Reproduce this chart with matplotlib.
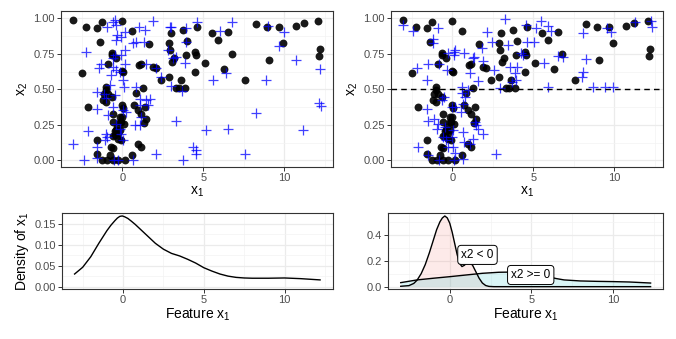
import numpy as np
import matplotlib.pyplot as plt
from matplotlib.ticker import FixedLocator, FormatStrFormatter

plt.rcParams['font.family'] = ['Liberation Sans', 'DejaVu Sans']
plt.rcParams['mathtext.fontset'] = 'custom'
plt.rcParams['mathtext.rm'] = 'Liberation Sans'
plt.rcParams['mathtext.default'] = 'regular'

# observed data (black dots), same in both top panels
obs_x1 = [-3.04, -2.26, -1.56, -1.23, -1.40, 0.00, 0.62, 1.62, 3.02, 3.74, 3.98, 4.60, 4.46, 4.56,
          3.94, 5.54, 5.93, 6.51, 6.78, 5.11, 6.30, 7.58, 8.25, 8.91, 9.08, 9.69, 9.90, 10.72,
          11.19, 12.09, 12.20, 12.15, 4.46, 2.87, 2.92, 3.08, 3.22, 2.87, 2.40, 3.63, 3.29, 3.49,
          3.84, 1.89, 2.09, 1.03, 1.13, -0.02, 0.04, -0.66, -0.62, -0.37, -0.88, -2.46, 1.27, 0.86,
          -0.99, -1.03, -1.15, -0.88, -0.62, -1.19, -0.99, -2.11, 0.00, 0.04, 0.72, 0.97, 1.17, 1.38,
          1.48, 1.31, -0.57, -0.57, 0.00, -0.12, 0.08, -0.33, -0.47, -0.27, -0.16, -0.57, -0.27,
          -0.06, -1.54, 0.97, 1.13, -0.57, -1.56, -0.78, 0.62, -1.25, -0.94, -0.57, -0.27, 0.14,
          -0.47, -0.16, -0.06, -0.37, -0.68]
obs_x2 = [0.988, 0.940, 0.930, 0.976, 0.835, 0.984, 0.910, 0.816, 0.900, 0.918, 0.840, 0.936, 0.760,
          0.740, 0.740, 0.894, 0.850, 0.906, 0.748, 0.687, 0.642, 0.565, 0.960, 0.936, 0.706, 0.940,
          0.830, 0.948, 0.970, 0.984, 0.784, 0.734, 0.624, 0.828, 0.780, 0.694, 0.718, 0.584, 0.565,
          0.565, 0.513, 0.513, 0.513, 0.659, 0.647, 0.670, 0.680, 0.630, 0.624, 0.753, 0.741, 0.718,
          0.678, 0.616, 0.513, 0.475, 0.518, 0.494, 0.470, 0.464, 0.447, 0.428, 0.412, 0.376, 0.388,
          0.370, 0.388, 0.353, 0.329, 0.376, 0.289, 0.266, 0.329, 0.271, 0.306, 0.271, 0.254, 0.235,
          0.207, 0.193, 0.212, 0.169, 0.153, 0.146, 0.141, 0.118, 0.094, 0.089, 0.042, 0.035, 0.035,
          0.005, 0.000, 0.000, 0.005, 0.000, 0.176, 0.306, 0.270, 0.212, 0.094]

# simulated data, left panel (blue crosses)
simA_x1 = [-3.04, -2.38, -2.26, -2.11, -1.54, -1.54, -1.56, -1.44, -1.29, -1.56, -1.15, -0.99, -1.03,
           -0.94, -1.05, -0.88, -0.78, -0.72, -0.57, -0.41, -0.57, -0.47, -0.41, -0.33, -0.37, -0.57,
           -0.47, -0.92, 0.14, -0.06, 0.14, -0.06, 0.14, -0.16, 0.04, 0.10, -0.47, -0.57, 0.04, 0.20,
           -0.37, -0.16, -0.06, 0.04, -0.53, -0.27, 0.66, 0.76, 1.07, 1.07, 1.11, 1.48, 1.68, 1.58,
           1.17, 0.86, 1.03, 1.38, 0.82, 0.66, 1.31, 1.48, 2.05, 1.89, 2.92, 3.02, 2.81, 3.33, 3.12,
           2.40, 2.98, 3.68, 3.88, 3.94, 3.94, 3.33, 2.05, 3.74, 4.35, 4.52, 4.56, 4.62, 5.17, 5.59,
           6.00, 6.37, 6.55, 6.76, 7.58, 8.25, 8.87, 9.00, 9.69, 9.96, 10.72, 11.17, 12.20, 12.15, 12.25]
simA_x2 = [0.118, 0.000, 0.760, 0.205, 0.019, 0.094, 0.365, 0.647, 0.682, 0.482, 0.464, 0.442, 0.188,
           0.165, 0.141, 0.318, 0.529, 0.600, 0.659, 0.635, 0.718, 0.741, 0.847, 0.882, 0.953, 0.976,
           0.988, 0.941, 0.906, 0.871, 0.776, 0.741, 0.682, 0.624, 0.565, 0.518, 0.459, 0.376, 0.353,
           0.341, 0.259, 0.224, 0.188, 0.141, 0.005, 0.005, 0.005, 0.247, 0.247, 0.388, 0.435, 0.424,
           0.435, 0.388, 0.306, 0.518, 0.941, 0.918, 0.835, 0.828, 0.835, 0.678, 0.647, 0.984, 0.941,
           0.936, 0.776, 0.729, 0.718, 0.584, 0.522, 0.487, 0.689, 0.929, 0.835, 0.278, 0.047, 0.005,
           0.094, 0.075, 0.042, 0.976, 0.212, 0.565, 0.913, 0.616, 0.219, 0.972, 0.047, 0.336, 0.565,
           0.948, 0.805, 0.906, 0.706, 0.212, 0.640, 0.405, 0.386]

# simulated data, right panel (blue crosses)
simB_x1 = [-3.02, -2.41, -2.16, -1.52, -1.54, -1.58, -1.48, -2.10, -1.52, -1.17, -1.17, -0.86, -0.82,
           -0.35, -0.25, 0.12, 0.16, 0.12, -0.49, -0.66, -1.13, -0.91, -0.97, -0.45, -0.56, -0.41,
           -0.25, 0.06, 0.16, 0.12, -0.80, 0.68, 0.06, -0.04, -0.04, 0.16, 0.53, 0.68, 0.78, 0.62,
           0.58, 0.99, 1.09, 0.74, 1.30, 1.36, 1.91, 1.85, 2.12, 1.60, 1.40, 1.44, 1.60, 1.87, 1.30,
           1.09, 0.68, 0.72, 2.67, 2.47, 2.59, 2.94, 3.25, 3.46, 3.56, 3.87, 3.93, 3.66, 3.97, 4.24,
           4.38, 4.53, 4.59, 5.04, 5.14, 5.45, 5.68, 5.93, 6.09, 5.88, 6.54, 6.85, 8.09, 8.23, 8.09,
           7.98, 8.70, 9.42, 9.94, 9.53, 9.79, 11.28, 12.26, 12.30]
simB_x2 = [0.953, 0.913, 0.647, 0.682, 0.565, 0.365, 0.278, 0.094, 0.035, 0.852, 0.824, 0.929, 0.682,
           0.635, 0.753, 0.765, 0.776, 0.741, 0.447, 0.424, 0.294, 0.259, 0.224, 0.235, 0.165, 0.141,
           0.094, 0.094, 0.052, 0.005, 0.005, 0.012, 0.212, 0.165, 0.376, 0.376, 0.341, 0.400, 0.447,
           0.471, 0.518, 0.494, 0.612, 0.753, 0.718, 0.729, 0.699, 0.788, 0.906, 0.560, 0.271, 0.247,
           0.224, 0.188, 0.153, 0.118, 0.200, 0.129, 0.042, 0.835, 0.635, 0.513, 0.993, 0.812, 0.659,
           0.612, 0.565, 0.553, 0.659, 0.753, 0.741, 0.953, 0.835, 0.835, 0.929, 0.984, 0.687, 0.948,
           0.913, 0.518, 0.734, 0.725, 0.894, 0.711, 0.624, 0.588, 0.518, 0.518, 0.518, 0.929, 0.906,
           0.976, 0.984, 0.941]

# density of x1
dens_x = [-3.0, -2.5, -2.0, -1.5, -1.0, -0.75, -0.5, -0.35, -0.2, -0.05, 0.1, 0.3, 0.5, 0.75, 1.0,
          1.5, 2.0, 2.5, 3.0, 3.5, 4.0, 4.5, 5.0, 5.5, 6.0, 6.5, 7.0, 7.5, 8.0, 9.0, 10.0, 11.0, 12.2]
dens_y = [0.030, 0.046, 0.071, 0.103, 0.133, 0.146, 0.157, 0.163, 0.167, 0.168, 0.166, 0.162, 0.156,
          0.148, 0.139, 0.121, 0.103, 0.089, 0.079, 0.073, 0.065, 0.056, 0.045, 0.037, 0.030, 0.025,
          0.022, 0.0206, 0.020, 0.020, 0.0206, 0.019, 0.016]

# conditional densities
low_x = [-3.0, -2.5, -2.2, -2.0, -1.75, -1.5, -1.25, -1.0, -0.8, -0.6, -0.45, -0.3, -0.15, 0.0, 0.15,
         0.3, 0.45, 0.6, 0.75, 0.9, 1.05, 1.2, 1.4, 1.6, 1.8, 2.0, 2.2, 2.4, 2.7, 4.0, 8.0, 12.3]
low_y = [0.003, 0.008, 0.025, 0.05, 0.10, 0.17, 0.26, 0.36, 0.44, 0.50, 0.53, 0.545, 0.53, 0.49, 0.42,
         0.335, 0.25, 0.18, 0.155, 0.165, 0.185, 0.19, 0.165, 0.115, 0.065, 0.028, 0.009, 0.002, 0.0,
         0.0, 0.0, 0.0]
high_x = [-3.0, -2.0, -1.0, 0.0, 1.0, 2.0, 3.0, 4.0, 5.0, 5.5, 6.0, 6.5, 7.0, 8.0, 9.0, 10.0, 11.0, 12.3]
high_y = [0.031, 0.052, 0.065, 0.077, 0.090, 0.103, 0.111, 0.113, 0.103, 0.092, 0.077, 0.063, 0.052,
          0.044, 0.041, 0.039, 0.036, 0.028]

W, H = 676, 339
fig = plt.figure(figsize=(W / 100, H / 100), dpi=100)


def box(l, r, t, b):
    return [l / W, 1 - b / H, (r - l) / W, (b - t) / H]


def bw(ax, yticks, yminor, fmt, ylim):
    ax.set_xlim(-3.78, 13.0)
    ax.set_ylim(*ylim)
    ax.set_xticks([0, 5, 10])
    ax.xaxis.set_minor_locator(FixedLocator([-2.5, 2.5, 7.5, 12.5]))
    ax.set_yticks(yticks)
    ax.yaxis.set_minor_locator(FixedLocator(yminor))
    ax.yaxis.set_major_formatter(FormatStrFormatter(fmt))
    ax.set_axisbelow(True)
    ax.grid(which='major', color='#EBEBEB', lw=0.9)
    ax.grid(which='minor', color='#F3F3F3', lw=0.5)
    for s in ax.spines.values():
        s.set_color('#333333')
        s.set_linewidth(0.8)
    ax.tick_params(which='major', length=3, width=0.7, color='#333333',
                   labelsize=8, labelcolor='#4D4D4D', pad=1.5)
    ax.tick_params(which='minor', length=0)


top_yt = [0, 0.25, 0.5, 0.75, 1.0]
top_ym = [0.125, 0.375, 0.625, 0.875]

ax1 = fig.add_axes(box(61, 333, 11, 167))
ax1.scatter(obs_x1, obs_x2, s=32, color='black', alpha=0.9, lw=0, zorder=2)
ax1.scatter(simA_x1, simA_x2, s=60, marker='+', color='blue', alpha=0.75, lw=0.9, zorder=3)
bw(ax1, top_yt, top_ym, '%.2f', (-0.047, 1.052))
ax1.set_xlabel('x$_1$', fontsize=10, labelpad=1)
ax1.set_ylabel('x$_2$', fontsize=10, labelpad=2)

ax2 = fig.add_axes(box(391, 663, 11, 167))
ax2.scatter(obs_x1, obs_x2, s=32, color='black', alpha=0.9, lw=0, zorder=2)
ax2.scatter(simB_x1, simB_x2, s=60, marker='+', color='blue', alpha=0.75, lw=0.9, zorder=3)
ax2.axhline(0.5, color='black', ls=(0, (4, 3)), lw=1.0, zorder=4)
bw(ax2, top_yt, top_ym, '%.2f', (-0.047, 1.052))
ax2.set_xlabel('x$_1$', fontsize=10, labelpad=1)
ax2.set_ylabel('x$_2$', fontsize=10, labelpad=2)

ax3 = fig.add_axes(box(62, 333, 213, 289))
ax3.plot(dens_x, dens_y, color='black', lw=1.0)
bw(ax3, [0, 0.05, 0.10, 0.15], [0.025, 0.075, 0.125], '%.2f', (-0.0056, 0.175))
ax3.set_xlabel('Feature x$_1$', fontsize=10, labelpad=1)
ax3.set_ylabel('Density of x$_1$', fontsize=10, labelpad=2)

ax4 = fig.add_axes(box(388, 663, 213, 289))
ax4.fill_between(low_x, low_y, color='#F8766D', alpha=0.15, lw=0)
ax4.fill_between(high_x, high_y, color='#00BFC4', alpha=0.15, lw=0)
ax4.plot(low_x, low_y, color='black', lw=1.0)
ax4.plot(high_x, high_y, color='black', lw=1.0)
bw(ax4, [0, 0.2, 0.4], [0.1, 0.3, 0.5], '%.1f', (-0.018, 0.568))
ax4.set_xlim(-3.78, 13.06)
ax4.set_xlabel('Feature x$_1$', fontsize=10, labelpad=1)
lab = dict(boxstyle='round,pad=0.3,rounding_size=0.3', fc='white', ec='black', lw=0.7)
ax4.text(1.7, 0.245, 'x2 < 0', ha='center', va='center', fontsize=8.5, bbox=lab, zorder=5)
ax4.text(4.96, 0.09, 'x2 >= 0', ha='center', va='center', fontsize=8.5, bbox=lab, zorder=5)

fig.savefig('out.png', dpi=100)
